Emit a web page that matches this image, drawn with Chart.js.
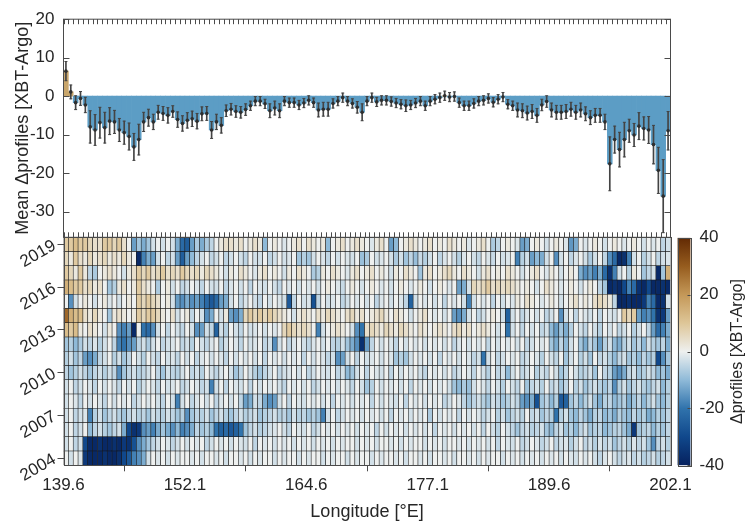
<!DOCTYPE html>
<html>
<head>
<meta charset="utf-8">
<script src="https://cdn.jsdelivr.net/npm/chart.js@4.4.1/dist/chart.umd.min.js"></script>
<style>
  html, body { margin: 0; padding: 0; background: #fff; }
  #wrap { position: relative; width: 745px; height: 525px; }
  #wrap canvas { position: absolute; left: 0; top: 0; }
</style>
</head>
<body>
<div id="wrap">
  <canvas id="bars" width="745" height="525"></canvas>
  <canvas id="heat" width="745" height="525"></canvas>
  <canvas id="cbar" width="745" height="525"></canvas>
</div>
<script>
// longitude bins (0.5 deg), bin centres
const lonCenters = [
  139.85,140.35,140.85,141.35,141.85,142.35,142.85,143.35,143.85,144.35,
  144.85,145.35,145.85,146.35,146.85,147.35,147.85,148.35,148.85,149.35,
  149.85,150.35,150.85,151.35,151.85,152.35,152.85,153.35,153.85,154.35,
  154.85,155.35,155.85,156.35,156.85,157.35,157.85,158.35,158.85,159.35,
  159.85,160.35,160.85,161.35,161.85,162.35,162.85,163.35,163.85,164.35,
  164.85,165.35,165.85,166.35,166.85,167.35,167.85,168.35,168.85,169.35,
  169.85,170.35,170.85,171.35,171.85,172.35,172.85,173.35,173.85,174.35,
  174.85,175.35,175.85,176.35,176.85,177.35,177.85,178.35,178.85,179.35,
  179.85,180.35,180.85,181.35,181.85,182.35,182.85,183.35,183.85,184.35,
  184.85,185.35,185.85,186.35,186.85,187.35,187.85,188.35,188.85,189.35,
  189.85,190.35,190.85,191.35,191.85,192.35,192.85,193.35,193.85,194.35,
  194.85,195.35,195.85,196.35,196.85,197.35,197.85,198.35,198.85,199.35,
  199.85,200.35,200.85,201.35,201.85
];
const binWidth = 0.5;
const lonTicks = [139.6, 152.1, 164.6, 177.1, 189.6, 202.1];
const lonRange = [139.6, 202.1];

// top panel: mean difference per bin and its error
const meanDiff = [
  6.5,1.1,-1.7,-0.6,-2.3,-8,-8.8,-6.9,-8.2,-6.5,-6.7,-8.8,-9.5,-10.5,-13.2,-11.3,-6.7,-5.6,-6.7,-4.2,-4.5,-5,-4,-6.1,-7.1,
  -6.3,-5.9,-6.5,-4.6,-4.5,-8.8,-6.7,-7.6,-3.8,-3.4,-4,-4.2,-3.5,-2.5,-1.3,-1.3,-2,-3.8,-3.1,-3.8,-1.3,-1.7,-1.7,-2.3,-1.8,
  -1.1,-1.7,-3.6,-3.4,-3.4,-1.9,-1.3,-0.4,-1.3,-1.9,-2.9,-4.2,-1.3,-0.4,-1.5,-1.1,-1.1,-1.4,-1.8,-2.1,-2.5,-2.3,-1.8,-1.3,-2.5,
  -1.3,-0.8,-0.4,0.1,-0.25,-0.1,-1.7,-2.5,-2.5,-1.9,-1.3,-1.1,-0.6,-1.6,-0.8,-0.25,-2.1,-2.5,-3.6,-3.8,-4.4,-4,-5,-2.3,-1.4,
  -3.6,-4.2,-4.2,-4,-3.4,-4.2,-3.6,-4.6,-5.6,-5,-5,-6.7,-17.6,-11.3,-13.9,-11.3,-9,-10.1,-7.8,-8.4,-8.8,-12.6,-19.3,-26,-9
];
const meanErr = [
  2.5,1.8,1.8,1.8,2,4.2,4,4,4,3.5,3,3,3,3.5,3.5,4,2.5,2.2,2,1.8,1.8,2,1.5,2,2,
  2,2,2,1.8,1.8,2.2,2,2,1.5,1.5,1.5,1.5,1.5,1.2,1.2,1.2,1.2,1.8,1.8,1.8,1.2,1.2,1.2,1.2,1.2,
  1.2,1.2,1.8,1.8,1.8,1.2,1.2,1.2,1.2,1.2,1.5,2.2,1.2,1.2,1.2,1.2,1.2,1.2,1.2,1.2,1.5,1.2,1.2,1.2,1.2,
  1.2,1.2,1.2,1.2,1.2,1.2,1.2,1.2,1.2,1.2,1.2,1.2,1.2,1.2,1.2,1.2,1.2,1.2,1.8,1.8,1.8,1.8,1.8,1.5,1.5,
  1.8,1.8,1.8,1.8,1.8,1.8,1.8,1.8,1.8,1.8,1.8,2,7,3.5,4.5,4.5,3,3,3.5,3,3.5,5,6,9.5,5
];
const topTicks = [20, 10, 0, -10, -20, -30];
const topRange = [-36.7, 20];

// bottom panel: difference per year and bin
const years = [2004,2005,2006,2007,2008,2009,2010,2011,2012,2013,2014,2015,2016,2017,2018,2019];
const yearTicks = [2004, 2007, 2010, 2013, 2016, 2019];

const d2019 = [
  9,9,12,9,9,6,4,4,9,9,6,9,4,0,-14,-8,-12,-8,-3,0,-3,0,-3,-12,-22,
  -25,-14,-7,-12,-7,-5,0,2,4,4,2,4,0,2,4,2,-10,0,2,0,-2,0,2,4,0,
  4,2,0,2,-10,0,2,4,0,2,4,2,0,-2,2,4,0,-14,-10,0,2,4,2,0,2,
  4,0,2,0,4,2,0,2,-2,0,2,4,0,-7,-5,0,2,0,-2,-14,-12,0,2,0,-3,
  0,2,0,-2,-15,-12,0,-2,0,2,0,-3,0,2,0,-2,0,2,0,-3,0,-2,0,-5,-3
];
const d2018 = [
  6,2,9,4,2,6,2,4,6,2,4,2,6,2,0,-38,-18,-12,-14,-3,0,-5,-3,-14,-25,
  -14,-10,-5,-3,0,-5,-3,0,-5,-3,0,-3,-5,0,-3,-3,0,-5,-3,0,-3,-2,0,-8,-6,
  -8,-3,0,-2,-5,0,-3,0,-2,-3,0,-9,-7,0,-3,-2,0,-3,-7,-3,-8,-5,-9,-4,-6,
  -3,0,-5,-2,0,-3,-6,-2,0,-3,-5,0,-2,-4,0,-3,-2,0,-18,-6,-3,-14,-10,-12,-3,
  0,-16,-3,0,-5,-2,0,-3,-7,-3,0,-5,-16,-22,-38,-36,-18,-3,0,-6,-3,0,-5,-3,-2
];
const d2017 = [
  9,6,2,9,2,-5,-7,0,2,4,2,0,-3,2,4,9,6,9,4,6,9,4,6,4,9,
  6,4,6,2,6,4,2,0,-3,2,0,4,2,0,-2,2,4,0,2,0,-3,2,0,4,2,
  0,-7,-6,2,0,4,2,0,-2,2,4,0,2,4,0,2,0,-3,2,0,4,2,0,-8,2,
  4,0,2,4,6,2,0,4,2,0,-3,2,4,0,2,0,4,2,0,-3,0,2,4,0,-2,
  2,0,-3,0,2,0,-12,-16,-14,-18,-12,-22,-36,-18,-3,0,-6,2,0,-8,-5,-3,-38,-8,15
];
const d2016 = [
  15,12,9,9,4,6,2,4,0,-8,-6,2,4,0,2,9,4,2,0,-7,0,2,-3,0,-5,
  -3,0,-2,-5,0,-3,-3,0,-5,-2,0,-3,0,-5,0,-2,-3,0,-3,-5,0,-2,0,-3,0,
  -2,0,-3,0,2,0,-2,-4,0,2,0,-3,0,2,0,-2,0,-3,0,2,0,-2,0,2,0,
  -3,0,2,0,-2,0,-14,-12,-3,6,4,6,9,4,6,4,6,4,2,0,2,0,-3,0,4,
  2,0,-2,0,2,0,-3,0,2,0,-5,-8,-38,-36,-38,-30,-18,-22,-36,-38,-30,-38,-38,-36,-38
];
const d2015 = [
  0,-16,-3,0,2,0,-3,0,2,-2,0,-3,0,2,0,9,6,9,6,4,0,2,-3,-14,-16,
  -12,-16,-14,-18,-22,-26,-22,-14,-12,-3,0,-5,-2,0,-3,-5,0,-3,0,-2,-3,-26,-5,0,-3,
  -2,-28,-5,0,-3,-2,0,-5,-3,0,-2,0,-3,0,-5,-2,0,-3,0,-2,-5,-24,-3,0,-2,
  0,-3,0,-5,0,-2,0,-3,-18,-3,0,-2,0,-5,0,-3,0,-2,2,0,4,2,0,-2,0,
  2,0,-3,0,2,4,0,2,0,4,6,4,2,-5,-38,-38,-36,-38,-38,-34,-18,-22,-38,-36,-3
];
const d2014 = [
  28,15,12,12,4,2,6,2,0,-8,2,4,2,0,2,9,6,9,9,6,2,0,4,-3,0,
  2,-5,0,-3,-16,-12,0,-3,2,-14,-16,-12,6,9,6,9,6,9,6,4,2,0,-3,2,4,
  2,0,4,2,6,4,2,0,4,6,2,4,0,2,4,6,2,0,4,2,0,-3,0,2,4,
  0,-2,0,-3,0,-14,-16,-12,-3,0,-5,-3,0,2,0,-3,-24,-3,0,-5,-2,0,-3,0,-5,
  -3,0,-16,-3,0,-5,0,-2,-3,0,-5,0,-2,-3,0,9,6,9,-14,-18,-16,-20,-36,-34,-14
];
const d2013 = [
  12,9,12,2,0,4,2,0,-3,2,0,-16,-18,-14,-38,0,-20,-22,-16,-3,0,-5,0,-3,-5,
  0,-3,-16,-14,-3,-5,-24,-3,-6,0,-3,-5,0,-3,-2,0,-3,0,-2,0,6,9,6,4,6,
  4,0,-18,-3,0,2,4,2,0,-3,-16,-20,4,6,4,2,6,4,2,6,4,2,0,4,2,
  0,2,4,2,0,4,6,2,4,0,2,4,2,0,-3,0,-20,-3,0,-5,0,-3,0,-5,-3,
  -10,-14,-8,-12,-6,0,-3,-5,0,-3,-6,0,-3,0,-5,-3,0,-6,-3,0,-5,-14,-22,-18,-12
];
const d2012 = [
  -8,-6,-10,-7,-3,-5,-2,-6,-3,0,-5,-18,-20,-16,-14,-5,-3,-7,-3,0,-5,-3,-2,0,-5,
  -3,-6,0,-3,-5,-2,0,-6,-3,0,-2,-5,0,-3,-2,0,-5,-3,-16,-3,0,-5,-2,0,-3,
  -5,-2,0,-3,0,-5,-6,-3,-8,-12,-16,-36,-14,-5,0,-3,0,-2,-5,0,-3,0,-2,0,-3,
  0,-2,0,-3,0,-5,-2,0,-3,0,-2,0,-5,0,-3,0,-2,0,-3,0,-5,-3,0,-2,0,
  -8,-12,-5,-10,-3,0,-8,-12,-5,-8,-14,-6,-3,-10,-12,-6,-3,-8,-5,-10,-3,-6,-8,-5,-12
];
const d2011 = [
  -6,-3,-8,-5,-14,-16,-12,-5,-3,0,-6,-3,-8,-5,0,-3,-6,0,-3,-5,0,-3,-2,-5,0,
  -3,0,-5,-2,0,-3,0,-2,-5,0,-3,0,-2,0,-3,0,-5,0,-2,0,-3,0,-2,0,-5,
  0,-3,0,-2,-5,-3,-16,-14,-3,0,-5,0,-3,-2,0,-3,0,-2,-8,-6,-8,-3,0,-2,0,
  -3,0,-5,0,-2,0,-3,0,-2,-5,-3,-20,-3,0,-5,-3,0,-2,0,-5,-3,0,-2,-6,0,
  -3,-5,0,-8,-3,0,-6,-3,-8,0,-5,-3,-6,-10,-5,-3,-8,-6,-10,-5,-8,-6,-30,-16,-8
];
const d2010 = [
  -5,-8,-6,-3,-5,-8,-5,-3,-6,-3,-5,-16,-8,-5,-3,-6,-5,-3,0,-5,-8,-3,-5,-6,-3,
  0,-5,-3,-6,0,-3,-5,-2,0,-3,-8,-5,0,-3,-6,-8,-5,-3,0,-5,-3,-2,0,-3,0,
  -5,-3,0,-2,-3,0,-5,-3,-10,-8,-3,0,-5,0,-2,-3,0,-5,0,-3,0,-2,0,-3,-5,
  0,-2,0,-3,0,-5,-3,0,-2,-5,0,-3,-6,0,-5,-3,-10,-3,0,-5,-3,0,-6,-3,-5,
  0,-3,-8,-5,0,-3,-6,-5,-3,-8,0,-5,-6,-14,-16,-12,-5,-3,-8,-6,-3,-5,-10,-8,-12
];
const d2009 = [
  -3,0,-5,-3,0,-2,-5,0,-3,0,-2,-5,0,-3,0,-6,-3,0,-2,-5,0,-3,-2,0,-5,
  -3,0,-2,-5,-3,-18,-3,0,-5,0,-2,-3,0,-5,0,-3,0,-2,0,-3,-5,0,-2,0,-3,
  0,-5,-3,0,-2,0,-3,0,-2,-5,0,-3,-8,-6,0,-3,0,-2,0,-3,0,-5,0,-2,0,
  -3,0,-2,0,-3,-8,-10,-7,-9,-3,0,-2,-5,0,-3,-6,0,-3,-5,0,-8,-5,-3,-6,0,
  -5,-3,-8,-5,0,-6,-3,-8,-5,-3,-6,-8,-5,-16,-6,-3,-8,-5,-3,-6,-8,-5,-3,-10,-6
];
const d2008 = [
  -3,0,-2,-5,0,-3,0,-2,-5,0,-3,0,-2,0,-5,-3,0,-2,0,-3,-5,0,-3,-18,-3,
  0,-5,-2,0,-3,0,-5,-2,0,-3,0,-5,-14,-12,-3,-5,-12,-16,-14,-3,0,-5,0,-2,-3,
  0,-2,0,-3,0,-5,0,-2,0,-3,0,-2,0,-5,0,-3,0,-2,-3,0,-5,0,-2,0,-3,
  0,-2,0,-5,-3,0,-2,-5,-8,-5,-3,-6,-8,-3,-5,-8,-6,-3,-5,-14,-16,-12,-28,-8,-5,
  -10,-6,-26,-24,-8,-5,-10,-6,-3,-8,-12,-6,-5,-10,-8,-6,-12,-8,-5,-10,-6,-3,-8,-10,-6
];
const d2007 = [
  -3,0,-5,-3,-2,-18,-6,-3,-8,-5,-3,-6,-8,-5,-3,-6,-5,-8,-3,-5,-6,-3,-5,-8,-6,
  -16,-8,-5,-6,-3,-8,-5,-3,-6,-8,-5,-3,-6,-5,-3,-8,-6,-5,-3,-6,-5,-8,-3,-6,-5,
  -8,-6,-8,-18,-3,0,-5,-3,0,-2,0,-3,0,-2,0,-3,0,-5,0,-2,0,-3,0,-2,0,
  -7,0,-3,0,-2,0,-5,0,-3,0,-2,-5,-3,0,-6,-3,-8,-5,-3,-6,0,-5,-3,-8,-5,
  -6,-20,-6,-3,-8,-10,-5,-8,-12,-6,-5,-10,-8,-12,-6,-8,-10,-5,-8,-6,-12,-10,-6,-8,-5
];
const d2006 = [
  -3,0,-5,-3,0,-10,-5,-3,-6,-8,-5,-3,-12,-30,-36,-34,-16,-14,-18,-12,-8,-12,-16,-10,-18,
  -16,-12,-5,-8,-6,-10,-20,-24,-22,-26,-24,-20,-8,-5,-3,-6,-5,-3,-2,0,-3,-5,0,-2,-3,
  0,-5,-3,0,-2,0,-3,0,-2,0,-3,0,-2,0,-5,0,-3,0,-2,0,-3,0,-2,0,-3,
  0,-5,0,-2,0,-3,0,-2,0,-3,0,-5,0,-3,-6,0,-3,-5,-8,-5,-3,-6,-5,-3,-8,
  -10,-5,-3,-8,-6,-10,-5,-3,-8,-6,-5,-10,-8,-6,-5,-8,-12,-34,-8,-6,-5,-10,-6,-8,-5
];
const d2005 = [
  -3,0,-5,-3,-30,-38,-38,-36,-38,-38,-36,-38,-34,-36,-28,-16,-12,-8,-5,-3,0,-2,-5,-3,0,
  -3,0,-2,0,-5,-3,0,-2,0,-3,0,-2,-3,0,-5,0,-2,0,-3,0,-2,0,-3,0,-2,
  0,-3,0,-2,0,-3,0,-2,0,0,-3,0,-2,0,-3,0,0,-2,0,-3,0,-2,0,0,-3,
  0,-2,0,-3,0,0,-2,0,-3,0,-2,0,-3,0,-5,0,-2,-3,0,-5,-3,0,-2,-5,-3,
  0,-5,-3,-2,-6,-3,0,-5,-3,-6,-2,-5,-3,-8,-5,-3,-6,-2,-5,-3,-8,-16,-5,-3,-6
];
const d2004 = [
  0,-3,0,-2,-34,-38,-38,-38,-36,-38,-38,-36,-30,-26,-18,-16,-12,-3,0,-2,0,-3,0,-2,0,
  0,-2,0,-3,0,0,-2,0,-3,0,0,-2,0,-3,0,-2,0,0,-3,0,-2,0,0,-3,0,
  -2,0,0,-3,0,-2,0,0,-3,0,-2,0,0,-3,0,-2,0,0,-2,0,-3,0,0,-2,0,
  -3,0,0,-2,0,-3,0,0,-2,0,-3,0,-2,0,0,-3,0,-2,0,-3,0,-2,0,-3,0,
  -2,0,-3,0,-2,-3,0,-2,0,-3,-5,-2,0,-3,-5,-3,-2,-5,-3,-6,-5,-3,-6,-5,-3
];
const heatRows = [d2004,d2005,d2006,d2007,d2008,d2009,d2010,d2011,d2012,d2013,d2014,d2015,d2016,d2017,d2018,d2019];

// colour scale
const cbarRange = [-40, 40];
const cbarTicks = [40, 20, 0, -20, -40];
const cmapStops = [-40, -30, -20, -10, 0, 10, 20, 30, 40];
const cmapRGB = [
  [6, 33, 94], [16, 72, 140], [48, 115, 172], [143, 186, 216], [238, 240, 239],
  [222, 198, 152], [196, 152, 88], [150, 92, 30], [98, 42, 4]
];

const posColor = '#c9a66b';
const negColor = '#5c9dc5';
const axisColor = '#4a4a4a';
const textColor = '#262626';
const fontFamily = "'Liberation Sans', Arial, Helvetica, sans-serif";

Chart.defaults.font.family = fontFamily;
Chart.defaults.color = textColor;
Chart.defaults.animation = false;
Chart.defaults.events = [];
Chart.defaults.plugins.legend.display = false;
Chart.defaults.plugins.tooltip.enabled = false;

function cmap(v) {
  const s = cmapStops, c = cmapRGB;
  if (v <= s[0]) return `rgb(${c[0].join(',')})`;
  if (v >= s[s.length - 1]) return `rgb(${c[c.length - 1].join(',')})`;
  let k = 0;
  while (v > s[k + 1]) k++;
  const t = (v - s[k]) / (s[k + 1] - s[k]);
  const rgb = c[k].map((a, j) => Math.round(a + (c[k + 1][j] - a) * t));
  return `rgb(${rgb.join(',')})`;
}

const setTicks = (vals) => (scale) => { scale.ticks = vals.map(v => ({ value: v })); };

// ---------- top panel ----------
const topFrame = {
  id: 'topFrame',
  afterDraw(chart) {
    const { ctx, chartArea: a, scales: { x, y } } = chart;
    ctx.save();
    ctx.strokeStyle = axisColor;
    ctx.lineWidth = 1;
    ctx.strokeRect(a.left, a.top, a.right - a.left, a.bottom - a.top);
    ctx.beginPath();
    topTicks.forEach(v => {
      const py = Math.round(y.getPixelForValue(v)) + 0.5;
      ctx.moveTo(a.left, py); ctx.lineTo(a.left + 6, py);
      ctx.moveTo(a.right, py); ctx.lineTo(a.right - 6, py);
    });
    lonCenters.forEach(c => {
      const px = Math.round(x.getPixelForValue(c - binWidth / 2)) + 0.5;
      ctx.moveTo(px, a.top); ctx.lineTo(px, a.top + 5);
      ctx.moveTo(px, a.bottom); ctx.lineTo(px, a.bottom - 5);
    });
    ctx.stroke();
    ctx.restore();
  }
};

new Chart(document.getElementById('bars'), {
  type: 'bar',
  data: {
    datasets: [
      {
        label: 'mean',
        data: lonCenters.map((x, i) => ({ x, y: meanDiff[i] })),
        backgroundColor: meanDiff.map(v => v >= 0 ? posColor : negColor),
        borderWidth: 0,
        barPercentage: 1,
        categoryPercentage: 1,
        grouped: false,
        order: 4
      },
      {
        label: 'err',
        data: lonCenters.map((x, i) => ({ x, y: [meanDiff[i] - meanErr[i], meanDiff[i] + meanErr[i]] })),
        backgroundColor: '#444',
        borderWidth: 0,
        barThickness: 1,
        grouped: false,
        order: 3
      },
      {
        type: 'scatter',
        label: 'caps',
        data: lonCenters.flatMap((x, i) => [
          { x, y: meanDiff[i] - meanErr[i] },
          { x, y: meanDiff[i] + meanErr[i] }
        ]),
        pointStyle: 'line',
        pointRadius: 1.5,
        borderColor: '#444',
        borderWidth: 1,
        order: 2
      },
      {
        type: 'scatter',
        label: 'markers',
        data: lonCenters.map((x, i) => ({ x, y: meanDiff[i] })),
        pointRadius: 1.8,
        backgroundColor: '#2e2e2e',
        borderWidth: 0,
        order: 1
      }
    ]
  },
  options: {
    responsive: false,
    layout: { padding: { left: 0, top: 15, right: 74.5, bottom: 287.7 } },
    scales: {
      x: {
        type: 'linear',
        min: lonRange[0], max: lonRange[1],
        offset: false,
        display: false
      },
      y: {
        min: topRange[0], max: topRange[1],
        afterBuildTicks: setTicks(topTicks),
        afterFit: (s) => { s.width = 63.5; },
        grid: { display: false, drawTicks: false },
        border: { display: false },
        ticks: { padding: 9, font: { size: 17 }, color: textColor },
        title: {
          display: true,
          text: 'Mean \u0394profiles [XBT-Argo]',
          font: { size: 18 },
          color: textColor,
          padding: { top: 12, bottom: 0 }
        }
      }
    }
  },
  plugins: [topFrame]
});

// ---------- heat map ----------
const heatFrame = {
  id: 'heatFrame',
  afterDraw(chart) {
    const { ctx, chartArea: a } = chart;
    ctx.save();
    ctx.strokeStyle = axisColor;
    ctx.lineWidth = 1;
    ctx.strokeRect(Math.round(a.left) + 0.5, Math.round(a.top) + 0.5,
      Math.round(a.right - a.left), Math.round(a.bottom - a.top));
    ctx.restore();
  }
};

new Chart(document.getElementById('heat'), {
  type: 'bar',
  data: {
    datasets: years.map((yr, r) => ({
      label: String(yr),
      data: lonCenters.map((x) => ({ x, y: [yr - 0.5, yr + 0.5] })),
      backgroundColor: heatRows[r].map(cmap),
      borderColor: '#1a1a1a',
      borderWidth: 0.6,
      borderSkipped: false,
      barPercentage: 1,
      categoryPercentage: 1,
      grouped: false
    }))
  },
  options: {
    responsive: false,
    layout: { padding: { left: 0, top: 237.3, right: 74.5, bottom: 0 } },
    scales: {
      x: {
        type: 'linear',
        min: lonRange[0], max: lonRange[1],
        offset: false,
        afterBuildTicks: setTicks(lonTicks),
        afterFit: (s) => { s.height = 59.7; },
        grid: { drawOnChartArea: false, drawTicks: true, tickLength: 6, color: axisColor },
        border: { display: false },
        ticks: { padding: 4, font: { size: 17 }, color: textColor, maxRotation: 0,
          callback: (v) => Number(v).toFixed(1) },
        title: {
          display: true,
          text: 'Longitude [\u00B0E]',
          font: { size: 18 },
          color: textColor,
          padding: { top: 0, bottom: 2 }
        }
      },
      y: {
        type: 'linear',
        min: years[0] - 0.5, max: years[years.length - 1] + 0.5,
        afterBuildTicks: setTicks(yearTicks),
        afterFit: (s) => { s.width = 63.5; },
        grid: { drawOnChartArea: false, drawTicks: true, tickLength: 6, color: axisColor },
        border: { display: false },
        ticks: { padding: 3, font: { size: 17 }, color: textColor, minRotation: 30, maxRotation: 30,
          callback: (v) => String(v) }
      }
    }
  },
  plugins: [heatFrame]
});

// ---------- colour bar ----------
const cbarDeco = {
  id: 'cbarDeco',
  afterDraw(chart) {
    const { ctx, chartArea: a, scales: { y } } = chart;
    ctx.save();
    ctx.strokeStyle = axisColor;
    ctx.lineWidth = 1;
    ctx.strokeRect(Math.round(a.left) + 0.5, Math.round(a.top) + 0.5,
      Math.round(a.right - a.left), Math.round(a.bottom - a.top));
    ctx.beginPath();
    cbarTicks.forEach(v => {
      const py = Math.round(y.getPixelForValue(v)) + 0.5;
      ctx.moveTo(a.right, py); ctx.lineTo(a.right - 3, py);
    });
    ctx.stroke();
    ctx.translate(738, (a.top + a.bottom) / 2);
    ctx.rotate(-Math.PI / 2);
    ctx.fillStyle = textColor;
    ctx.font = `16px ${fontFamily}`;
    ctx.textAlign = 'center';
    ctx.textBaseline = 'middle';
    ctx.fillText('\u0394profiles [XBT-Argo]', 0, 0);
    ctx.restore();
  }
};

new Chart(document.getElementById('cbar'), {
  type: 'bar',
  data: {
    labels: [''],
    datasets: [{
      data: [cbarRange],
      backgroundColor: (c) => {
        const area = c.chart.chartArea;
        if (!area) return '#fff';
        const y = c.chart.scales.y;
        const g = c.chart.ctx.createLinearGradient(0, y.getPixelForValue(cbarRange[0]), 0, y.getPixelForValue(cbarRange[1]));
        cmapStops.forEach((s) => {
          g.addColorStop((s - cbarRange[0]) / (cbarRange[1] - cbarRange[0]), cmap(s));
        });
        return g;
      },
      borderWidth: 0,
      barPercentage: 1,
      categoryPercentage: 1
    }]
  },
  options: {
    responsive: false,
    layout: { padding: { left: 677.5, top: 237.8, right: 0, bottom: 59.7 } },
    scales: {
      x: { display: false, offset: true },
      y: {
        position: 'right',
        min: cbarRange[0], max: cbarRange[1],
        afterBuildTicks: setTicks(cbarTicks),
        afterFit: (s) => { s.width = 54.5; },
        grid: { display: false, drawTicks: false },
        border: { display: false },
        ticks: { padding: 9, font: { size: 17 }, color: textColor }
      }
    }
  },
  plugins: [cbarDeco]
});
</script>
</body>
</html>
